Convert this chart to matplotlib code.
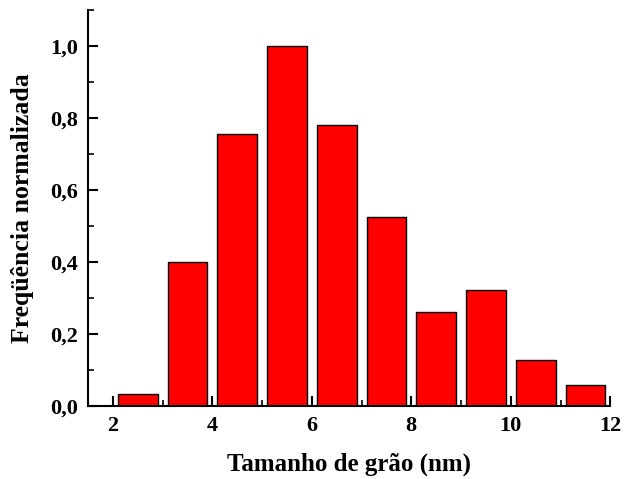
import numpy as np
import matplotlib.pyplot as plt
from matplotlib.ticker import MultipleLocator, FuncFormatter

# Dados do histograma (centros das classes e frequência normalizada)
centros = [2.5, 3.5, 4.5, 5.5, 6.5, 7.5, 8.5, 9.5, 10.5, 11.5]
frequencia = [0.035, 0.40, 0.755, 1.0, 0.78, 0.525, 0.262, 0.322, 0.127, 0.06]

xticks = [2, 4, 6, 8, 10, 12]
yticks = [0.0, 0.2, 0.4, 0.6, 0.8, 1.0]

plt.rcParams['font.family'] = ['Liberation Serif', 'DejaVu Serif']
plt.rcParams['font.weight'] = 'bold'

fig = plt.figure(figsize=(6.24, 4.79), dpi=100)
ax = fig.add_axes([0.141, 0.152, 0.837, 0.827])

ax.bar(centros, frequencia, width=0.8, color='#ff0000', edgecolor='black', linewidth=1)

ax.set_xlim(1.5, 12)
ax.set_ylim(0, 1.1)
ax.set_xticks(xticks)
ax.set_yticks(yticks)
ax.xaxis.set_minor_locator(MultipleLocator(1))
ax.yaxis.set_minor_locator(MultipleLocator(0.1))
ax.yaxis.set_major_formatter(FuncFormatter(lambda v, p: f"{v:.1f}".replace('.', ',')))

for s in ['top', 'right']:
    ax.spines[s].set_visible(False)
for s in ['left', 'bottom']:
    ax.spines[s].set_linewidth(1.5)

ax.tick_params(which='major', direction='in', length=7, width=1.5, labelsize=16, pad=7)
ax.tick_params(which='minor', direction='in', length=4, width=1.2)

ax.set_xlabel('Tamanho de grão (nm)', fontsize=18, fontweight='bold', labelpad=12)
ax.set_ylabel('Freqüência normalizada', fontsize=18.5, fontweight='bold', labelpad=12)

fig.savefig('out.png', dpi=100)
